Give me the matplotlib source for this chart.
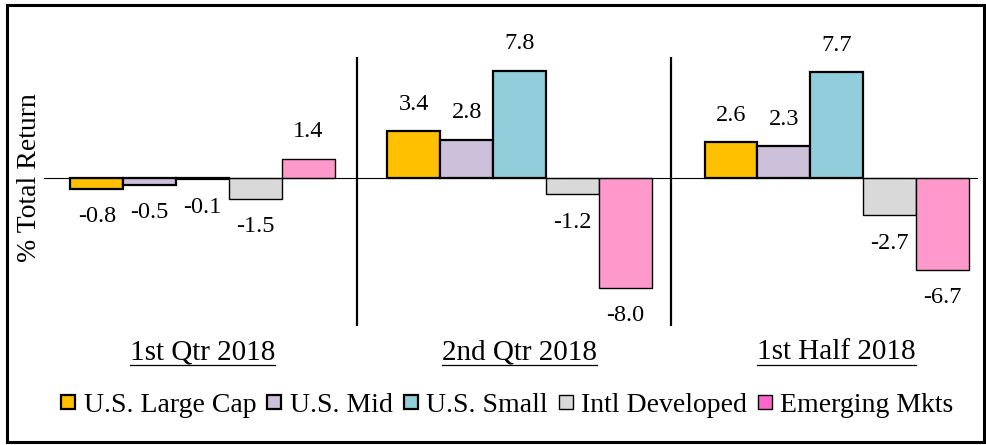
import matplotlib
matplotlib.use("Agg")
import matplotlib.pyplot as plt
from matplotlib.lines import Line2D
from matplotlib.patches import Rectangle
import numpy as np

plt.rcParams['font.family'] = ['Liberation Serif', 'DejaVu Serif']

periods = ["1st Qtr 2018", "2nd Qtr 2018", "1st Half 2018"]
series = ["U.S. Large Cap", "U.S. Mid", "U.S. Small", "Intl Developed", "Emerging Mkts"]
large_cap = [-0.8, 3.4, 2.6]
mid_cap = [-0.5, 2.8, 2.3]
small_cap = [-0.1, 7.8, 7.7]
intl_dev = [-1.5, -1.2, -2.7]
emerging = [1.4, -8.0, -6.7]
values = [large_cap, mid_cap, small_cap, intl_dev, emerging]

colors = ["#FFC000", "#CCC0DA", "#92CDDC", "#D9D9D9", "#FF99CC"]
legend_colors = ["#FFC000", "#CCC0DA", "#92CDDC", "#D9D9D9", "#FF66CC"]
edge_w = [1.6, 1.6, 1.6, 1.0, 1.0]

W, H = 987, 445
fig = plt.figure(figsize=(W / 100, H / 100), dpi=100)
ax = fig.add_axes([44 / W, 1 - 326 / H, (978 - 44) / W, (326 - 57) / H])

x = np.arange(len(periods))
bw = 1 / 6
for i, (vals, c) in enumerate(zip(values, colors)):
    pos = x + (i - 2) * bw
    ax.bar(pos, vals, width=bw, color=c, edgecolor="black", linewidth=edge_w[i], zorder=2)
    for px, v in zip(pos, vals):
        off = 27 if v >= 0 else -28
        ax.annotate(f"{v:.1f}", (px, v), xytext=(0, off), textcoords="offset pixels",
                    ha="center", va="center", fontsize=17.5)

ax.axhline(0, color="black", linewidth=0.8, zorder=3)
for s in (0.487, 1.478):
    ax.axvline(s, color="black", linewidth=1.6)

ax.set_xlim(-0.5, 2.446)
ax.set_ylim(-10.79, 8.82)
ax.axis("off")

# category labels (underlined)
trans = matplotlib.transforms.blended_transform_factory(ax.transData, fig.transFigure)
labels = [ax.text(xi, 1 - 352 / H, p, ha="center", va="center", fontsize=21, transform=trans)
          for xi, p in zip(x, periods)]

fig.text(30 / W, 1 - 178 / H, "% Total Return", rotation=90, ha="center", va="center", fontsize=20)

handles = [Line2D([], [], marker="s", linestyle="none", markersize=10, markerfacecolor=c,
                  markeredgecolor="black", markeredgewidth=1.6 if i < 3 else 1.0)
           for i, c in enumerate(legend_colors)]
fig.legend(handles, series, loc="center", bbox_to_anchor=(506 / W, 1 - 405 / H), ncol=5,
           frameon=False, fontsize=20, handletextpad=0.2, columnspacing=0.3, handlelength=0.7)

fig.patches.append(Rectangle((7 / W, 3 / H), 977 / W, 437 / H, transform=fig.transFigure,
                             fill=False, edgecolor="black", linewidth=2.2))

fig.canvas.draw()
r = fig.canvas.get_renderer()
for t in labels:
    bb = t.get_window_extent(r)
    fig.add_artist(Line2D([bb.x0 / W, bb.x1 / W], [1 - 365 / H, 1 - 365 / H],
                          transform=fig.transFigure, color="black", linewidth=0.9))

fig.savefig("out.png", dpi=100)
